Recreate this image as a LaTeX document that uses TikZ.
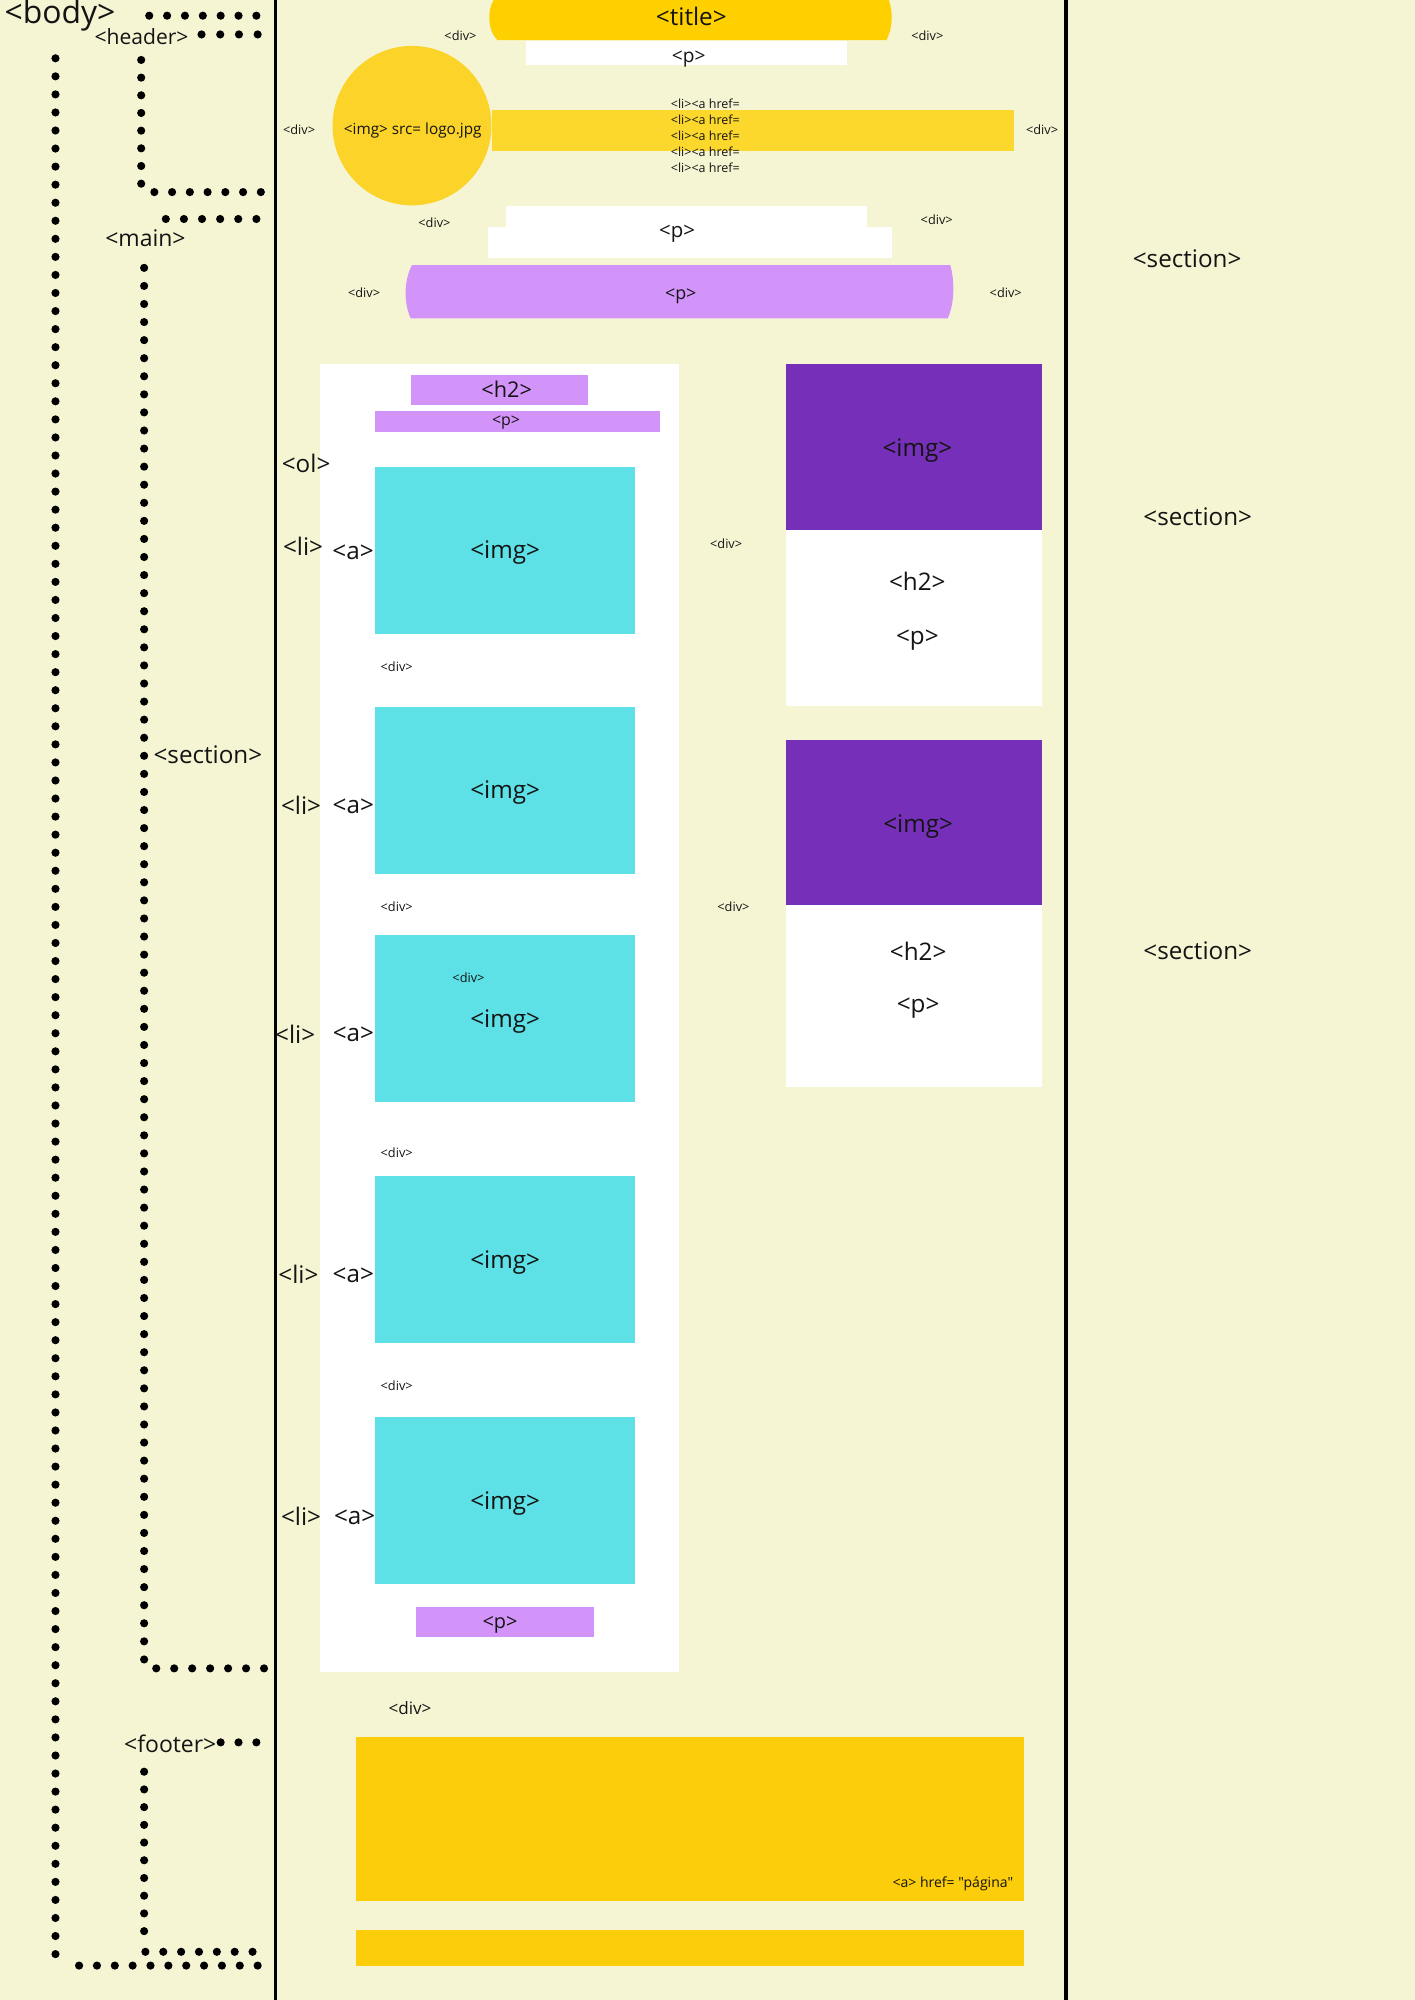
\documentclass[tikz,border=0pt]{standalone}
\usepackage{fontspec}
\usetikzlibrary{calc}
\setmainfont{Open Sans}
\newfontfamily\osans{Open Sans}
\definecolor{bgc}{RGB}{245,245,212}
\definecolor{titlec}{RGB}{254,208,0}
\definecolor{circc}{RGB}{252,211,41}
\definecolor{navc}{RGB}{253,216,44}
\definecolor{lilac}{RGB}{211,148,250}
\definecolor{cyanc}{RGB}{93,225,230}
\definecolor{violet}{RGB}{118,47,185}
\definecolor{footc}{RGB}{252,205,10}
\definecolor{ink}{RGB}{20,20,20}
\tikzset{
  lbl/.style={inner sep=0pt,text=ink,font=\osans\fontsize{#1}{#1}\selectfont},
  dotmark/.style={fill=black},
  rule/.style={line width=2.6pt,black},
}
% row of n evenly spaced dots from coordinate #1 to coordinate #2
\newcommand\dotrow[3]{%
  \pgfmathtruncatemacro\dn{#3-1}%
  \foreach \k in {0,...,\dn}{\fill[dotmark] ($(#1)!\k/\dn!(#2)$) circle[radius=3.2];}}
\begin{document}
\begin{tikzpicture}[x=1pt,y=-1pt]
\fill[bgc] (0,0) rectangle (1109,1568);
\useasboundingbox (0,0) rectangle (1109,1568);
% vertical rules
\coordinate (la) at (216,0); \coordinate (lb) at (216,1568);
\coordinate (ra) at (835.8,0); \coordinate (rb) at (835.8,1568);
\draw[rule] (la) -- (lb);
\draw[rule] (ra) -- (rb);
% dotted brackets
\coordinate (bt1) at (117,12.3); \coordinate (bt2) at (201,12.3);
\coordinate (bv1) at (43.5,45.7); \coordinate (bv2) at (43.5,1532);
\coordinate (bh1) at (62,1541); \coordinate (bh2) at (202,1541);
\coordinate (ht1) at (158,27); \coordinate (ht2) at (202,27);
\coordinate (hv1) at (110.7,47); \coordinate (hv2) at (110.7,144);
\coordinate (hh1) at (121,150.6); \coordinate (hh2) at (204.5,150.6);
\coordinate (mt1) at (130,171.7); \coordinate (mt2) at (201,171.7);
\coordinate (mv1) at (113,210); \coordinate (mv2) at (113,1301);
\coordinate (mh1) at (122.5,1308); \coordinate (mh2) at (207,1308);
\coordinate (ft1) at (173,1366); \coordinate (ft2) at (201,1366);
\coordinate (fv1) at (113,1389); \coordinate (fv2) at (113,1514);
\coordinate (fh1) at (114,1530.2); \coordinate (fh2) at (198,1530.2);
\dotrow{bt1}{bt2}{7}
\dotrow{bv1}{bv2}{106}
\dotrow{bh1}{bh2}{11}
\dotrow{ht1}{ht2}{4}
\dotrow{hv1}{hv2}{8}
\dotrow{hh1}{hh2}{7}
\dotrow{mt1}{mt2}{6}
\dotrow{mv1}{mv2}{78}
\dotrow{mh1}{mh2}{7}
\dotrow{ft1}{ft2}{3}
\dotrow{fv1}{fv2}{10}
\dotrow{fh1}{fh2}{7}
\node[lbl=25] (tbody) at (47,12) {<body>};
\node[lbl=16.5] (theader) at (111,29) {<header>};
\node[lbl=18] (tmain) at (114,187) {<main>};
\node[lbl=19] (tsection) at (163,592) {<section>};
\node[lbl=18] (tfooter) at (133.5,1367) {<footer>};
% header shapes
\fill[titlec] (387,0) -- (697,0) .. controls (700,10) and (700,22) .. (695,31.4) -- (390,31.4) .. controls (382,24) and (382,8) .. (387,0) -- cycle;
\fill[white] (412,32) rectangle (664,51);
\fill[navc] (385.5,86) rectangle (794.6,118);
\fill[circc] (323,98.5) ellipse [x radius=62.3,y radius=62.5];
\fill[white] (397,161.5) rectangle (680,178.5);
\fill[white] (382.7,178) rectangle (699.4,202.6);
\fill[lilac] (323,207.8) -- (745,207.8) .. controls (748.5,220) and (748.5,238) .. (743,249.6) -- (322,249.6) .. controls (316.5,238) and (316.5,220) .. (323,207.8) -- cycle;
\node[lbl=19] (ttitle) at (542,13) {<title>};
\node[lbl=10] (d1) at (361,28) {<div>};
\node[lbl=10] (d2) at (727,28) {<div>};
\node[lbl=15] (p1) at (540,46.5) {<p>};
\node[lbl=12] (logo) at (323.6,102) {<img> src= logo.jpg};
\node[lbl=10] (d3) at (234.5,102) {<div>};
\foreach \y [count=\i] in {81.3,93.6,106.4,119,131.5}
  \node[lbl=9.8] (nav\i) at (553,\y) {<li><a href=};
\node[lbl=10] (d4) at (817,101.5) {<div>};
\node[lbl=16] (p2) at (530.8,183.5) {<p>};
\node[lbl=10] (d5) at (340.6,174.4) {<div>};
\node[lbl=10] (d6) at (734.4,172.5) {<div>};
\node[lbl=14] (p3) at (533.7,232) {<p>};
\node[lbl=10] (d7) at (285.4,229.3) {<div>};
\node[lbl=10] (d8) at (788.5,229.3) {<div>};
\node[lbl=19] (s1) at (930.7,202.6) {<section>};
\node[lbl=19] (s2) at (939,405) {<section>};
\node[lbl=19] (s3) at (939,745.6) {<section>};
% ordered list section
\fill[white] (251,285.5) rectangle (532,1311);
\fill[lilac] (322,294) rectangle (460.8,317.6);
\fill[lilac] (294,322) rectangle (517.3,338.6);
\node[lbl=17] (h2a) at (397.2,305.3) {<h2>};
\node[lbl=12.5] (p4) at (396.7,331.5) {<p>};
\node[lbl=19] (tol) at (240,363.4) {<ol>};
\foreach \t/\li/\ly/\ax/\ay [count=\i] in {366/237.6/428.2/276.8/433, 554/236/631/277/632, 733/231.4/811/277.1/811, 922/234/999/277/999.5, 1111/236/1189/278/1189.5}{
  \fill[cyanc] (294,\t) rectangle (498,\t+131);
  \node[lbl=19] (img\i) at (396,\t+67.5) {<img>};
  \node[lbl=19] (li\i) at (\li,\ly) {<li>};
  \node[lbl=19] (a\i) at (\ax,\ay) {<a>};
}
\foreach \y [count=\i] in {523,710.6,903.5,1086}
  \node[lbl=10] (ld\i) at (311,\y) {<div>};
\node[lbl=10] (innerdiv) at (367.3,766.5) {<div>};
\fill[lilac] (326.3,1259.6) rectangle (465.6,1283.7);
\node[lbl=15.6] (p5) at (392,1273.5) {<p>};
% right cards
\fill[violet] (616,285.5) rectangle (817,415.2);
\fill[white] (616,415.2) rectangle (817,553.7);
\fill[violet] (616,580.4) rectangle (817,709.8);
\fill[white] (616,709.8) rectangle (817,852.3);
\node[lbl=19] (ci1) at (719.2,353.3) {<img>};
\node[lbl=19] (ch1) at (719.2,456) {<h2>};
\node[lbl=19] (cp1) at (719.2,501.5) {<p>};
\node[lbl=19] (ci2) at (719.8,647.8) {<img>};
\node[lbl=19] (ch2) at (719.8,745.6) {<h2>};
\node[lbl=19] (cp2) at (719.8,790) {<p>};
\node[lbl=10] (cd1) at (569.3,426.1) {<div>};
\node[lbl=10] (cd2) at (575,711.1) {<div>};
% footer
\fill[footc] (279,1361.6) rectangle (802.9,1490.2);
\fill[footc] (279,1512.9) rectangle (802.9,1541.2);
\node[lbl=13.4] (fd) at (321.4,1339.3) {<div>};
\node[lbl=11,anchor=east] (fa) at (794.5,1477) {<a> href= "página"};
\end{tikzpicture}
\end{document}
